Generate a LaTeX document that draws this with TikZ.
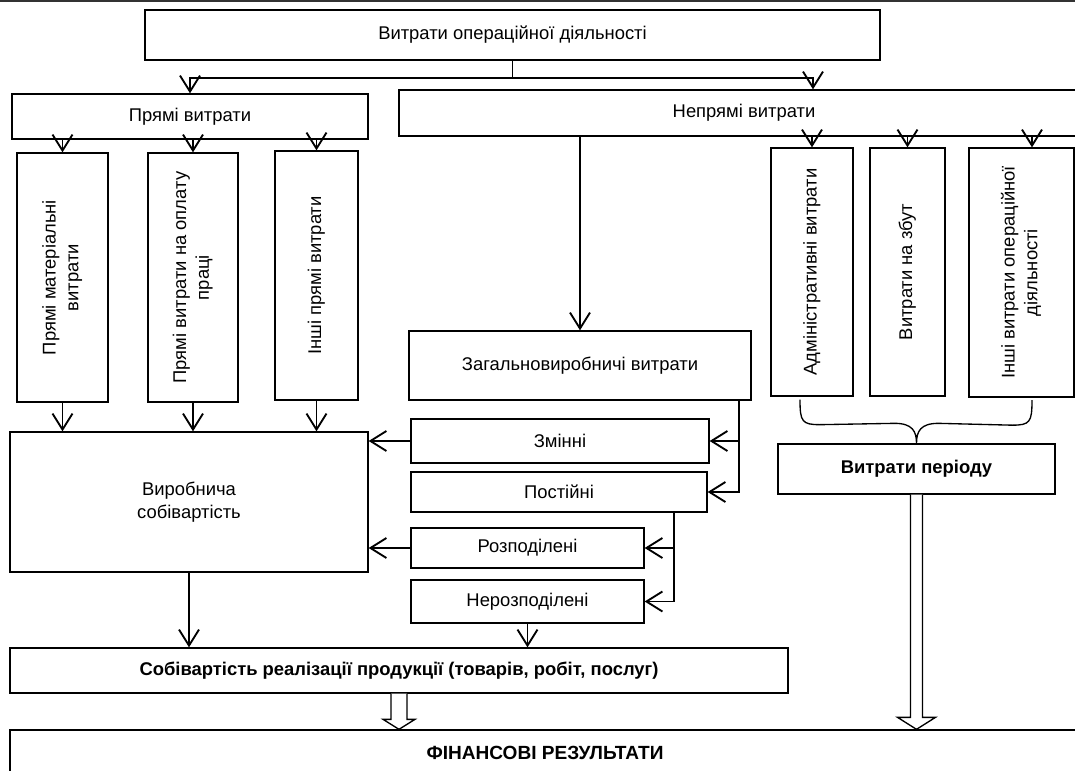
\documentclass[tikz,border=0pt]{standalone}
\usepackage{fontspec}
\setmainfont{Liberation Sans}
\usepackage{graphicx}
\usepackage{tikz}
\usetikzlibrary{arrows.meta, calc}

\newcommand{\vtext}[1]{\rotatebox{90}{\begin{tabular}{@{}c@{}}#1\end{tabular}}}

\begin{document}
\begin{tikzpicture}[
  x=0.75pt, y=-0.75pt,
  box/.style={draw, line width=1pt, inner sep=0pt, align=center,
              font=\fontsize{13.8}{17}\selectfont},
  bbox/.style={box, font=\fontsize{13.8}{17}\selectfont\bfseries},
  wh/.style 2 args={minimum width=0.75*#1pt, minimum height=0.75*#2pt},
  arrow/.style={-{Straight Barb[length=12pt,width=15pt]}, line width=1.4pt},
  link/.style={line width=1pt},
  hollow/.style={draw, fill=white, line width=1pt},
]
\useasboundingbox (0,0) rectangle (1075,771);
\clip (0,0) rectangle (1075,771);

%% Page rule
\draw[line width=1.5pt, black!80] (0,1) -- (1075,1);

%% Top level
\node[box, wh={735}{50}]  (ops)      at (512.5,35)  {Витрати операційної діяльності};
\node[box, wh={356}{45}]  (direct)   at (190,116.5) {Прямі витрати};
\node[box, wh={690}{46}]  (indirect) at (744,113)   {Непрямі витрати};

%% Direct cost items
\node[box, wh={91}{249}]  (pm) at (62.5,277.5)  {\vtext{Прямі матеріальні\\витрати}};
\node[box, wh={90}{249}]  (pw) at (193,277.5)   {\vtext{Прямі витрати на оплату\\праці}};
\node[box, wh={83}{249}]  (po) at (316.5,275.5) {\vtext{Інші прямі витрати}};

%% Indirect cost items
\node[box, wh={82}{248}]  (adm)   at (812,272)      {\vtext{Адміністративні витрати}};
\node[box, wh={75}{248}]  (sales) at (907.5,272)    {\vtext{Витрати на збут}};
\node[box, wh={105}{249}] (oth)   at (1021.5,272.5) {\vtext{Інші витрати операційної\\діяльності}};

%% Overhead split
\node[box, wh={342}{69}]  (gen)     at (580,365.5)  {Загальновиробничі витрати};
\node[box, wh={298}{44}]  (var)     at (560,441)    {Змінні};
\node[box, wh={296}{40}]  (fix)     at (559,492)    {Постійні};
\node[box, wh={233}{40}]  (alloc)   at (527.5,548)  {Розподілені};
\node[box, wh={233}{43}]  (unalloc) at (527.5,601.5) {Нерозподілені};

%% Results
\node[box,  wh={358}{140}] (prod)   at (189,502)   {Виробнича\\собівартість};
\node[bbox, wh={277}{50}]  (period) at (916.5,469) {Витрати періоду};
\node[bbox, wh={778}{45}]  (sob)    at (399,670.5) {Собівартість реалізації продукції (товарів, робіт, послуг)};
\node[bbox, wh={1070}{46}, font=\fontsize{14.3}{17}\selectfont\bfseries]
  (fin) at (545,753) {ФІНАНСОВІ РЕЗУЛЬТАТИ};

%% Top split
\draw[link] (ops.south) -- ++(0,17) coordinate (split);
\draw[arrow] (split) -| (direct.north);
\draw[arrow] (split) -| ($(indirect.north)+(69,0)$);

%% Direct costs
\foreach \n in {pm, pw, po} {
  \draw[arrow] (\n.north |- direct.south) -- (\n.north);
  \draw[arrow] (\n.south) -- (\n.south |- prod.north);
}

%% Indirect costs
\draw[arrow] (gen.north |- indirect.south) -- (gen.north);
\draw[arrow] (adm.north |- indirect.south) -- (adm.north);
\draw[arrow] (sales.north |- indirect.south) -- (sales.north);
\coordinate (othin) at ($(oth.north)+(10.5,0)$);
\draw[arrow] (othin |- indirect.south) -- (othin);

%% Overhead branches
\coordinate (gtap) at ($(gen.south east)+(-13,0)$);
\draw[arrow] (gtap) |- (fix.east);
\draw[arrow] (gtap |- var.east) -- (var.east);
\coordinate (ftap) at ($(fix.south east)+(-34,0)$);
\draw[arrow] (ftap) |- (unalloc.east);
\draw[arrow] (ftap |- alloc.east) -- (alloc.east);
\draw[arrow] (var.west) -- (prod.east |- var.west);
\draw[arrow] (alloc.west) -- (prod.east |- alloc.west);

%% To cost of sales
\draw[arrow] (prod.south) -- (prod.south |- sob.north);
\draw[arrow] (unalloc.south) -- (unalloc.south |- sob.north);

%% Brace under period costs
\coordinate (bl) at ($(adm.south)+(-12,3)$);
\coordinate (br) at ($(oth.south)+(10.5,2.5)$);
\draw[link] (bl) .. controls +(0,22) and +(-18,0) .. ($(bl)+(20,25)$)
  -- ($(period.north)+(-22,-20)$) .. controls +(18,0) and +(0,-12) .. (period.north)
  .. controls +(0,-12) and +(-18,0) .. ($(period.north)+(22,-20)$)
  -- ($(br)+(-20,25)$) .. controls +(18,0) and +(0,22) .. (br);

%% Hollow arrows to results
\draw[hollow] ($(sob.south)+(-8,0)$) -- ($(sob.south |- fin.north)+(-8,-10)$)
  -- ++(-8,0) -- (sob.south |- fin.north) -- ++(16,-10) -- ++(-8,0)
  -- ($(sob.south)+(8,0)$);
\draw[hollow] ($(period.south)+(-6,0)$) -- ($(period.south |- fin.north)+(-6,-12)$)
  -- ++(-13,0) -- (period.south |- fin.north) -- ++(19,-12) -- ++(-13,0)
  -- ($(period.south)+(6,0)$);

\end{tikzpicture}
\end{document}
